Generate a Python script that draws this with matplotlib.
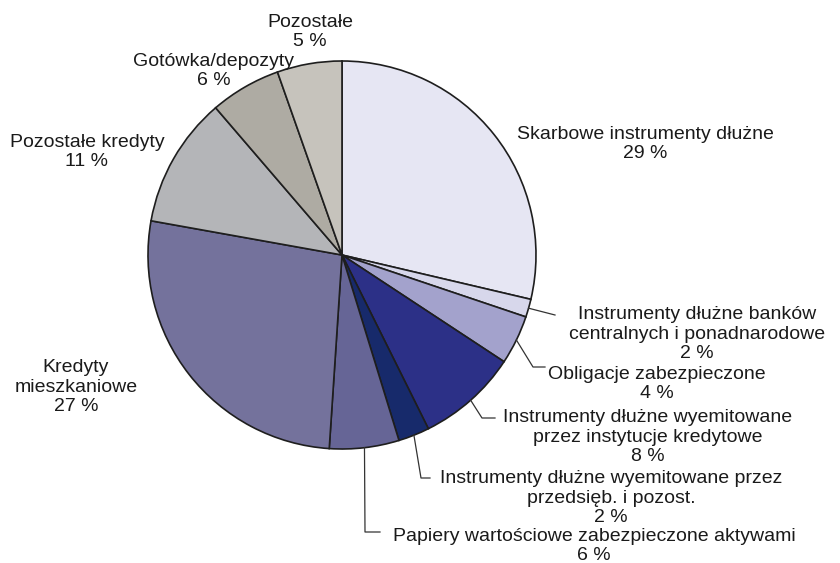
import matplotlib
matplotlib.use("Agg")
import matplotlib.pyplot as plt
import numpy as np

# ---- data ----
categories = [
    "Skarbowe instrumenty dłużne",
    "Instrumenty dłużne banków\ncentralnych i ponadnarodowe",
    "Obligacje zabezpieczone",
    "Instrumenty dłużne wyemitowane\nprzez instytucje kredytowe",
    "Instrumenty dłużne wyemitowane przez\nprzedsięb. i pozost.",
    "Papiery wartościowe zabezpieczone aktywami",
    "Kredyty\nmieszkaniowe",
    "Pozostałe kredyty",
    "Gotówka/depozyty",
    "Pozostałe",
]
shares = [28.7, 1.5, 4.1, 8.4, 2.6, 5.8, 26.8, 10.9, 5.9, 5.4]
pct_labels = [29, 2, 4, 8, 2, 6, 27, 11, 6, 5]

# ---- style ----
face_colors = ["#e6e6f3", "#d7d7eb", "#a3a2cc", "#2c3087", "#172a6b",
               "#666596", "#74729c", "#b4b5b8", "#aeaba3", "#c6c3bc"]

plt.rcParams["font.family"] = ["Liberation Sans", "DejaVu Sans"]

W, H = 840, 563
fig = plt.figure(figsize=(W / 100, H / 100), dpi=100)
ax = fig.add_axes([0, 0, 1, 1])

CX, CY, R = 342, 255, 194  # layout in pixels


def p(px, py):
    return ((px - CX) / R, (CY - py) / R)


wedges, _ = ax.pie(shares, startangle=90, counterclock=False, radius=1,
                   colors=face_colors,
                   wedgeprops=dict(edgecolor="#1e1e1e", linewidth=1.2))
ax.set_xlim(p(0, 0)[0], p(W, 0)[0])
ax.set_ylim(p(0, H)[1], p(0, 0)[1])
ax.set_aspect("auto")
ax.axis("off")

# label block centres (pixels)
label_pos = [(645, 144), (697, 334), (657, 384), (648, 437), (611, 498),
             (594, 546), (76, 387), (87, 152), (214, 71), (310, 32)]
# leader lines: waypoints (pixels) after the wedge edge point (None = no leader)
leaders = [None, [(555, 315)], [(533, 367), (545, 367)], [(482, 418), (495, 418)],
           [(421, 478), (430, 478)], [(365, 532), (380, 532)], None, None, None, None]

fs = 14
for w, cat, pc, pos, ld in zip(wedges, categories, pct_labels, label_pos, leaders):
    x, y = p(*pos)
    ax.text(x, y, f"{cat}\n{pc} %", ha="center", va="center", fontsize=fs,
            color="#1a1a1a", linespacing=1.2)
    if ld:
        mid = np.deg2rad((w.theta1 + w.theta2) / 2)
        xs = [np.cos(mid)] + [p(*q)[0] for q in ld]
        ys = [np.sin(mid)] + [p(*q)[1] for q in ld]
        ax.plot(xs, ys, color="#333333", linewidth=0.9)

fig.savefig("out.png", dpi=100)
